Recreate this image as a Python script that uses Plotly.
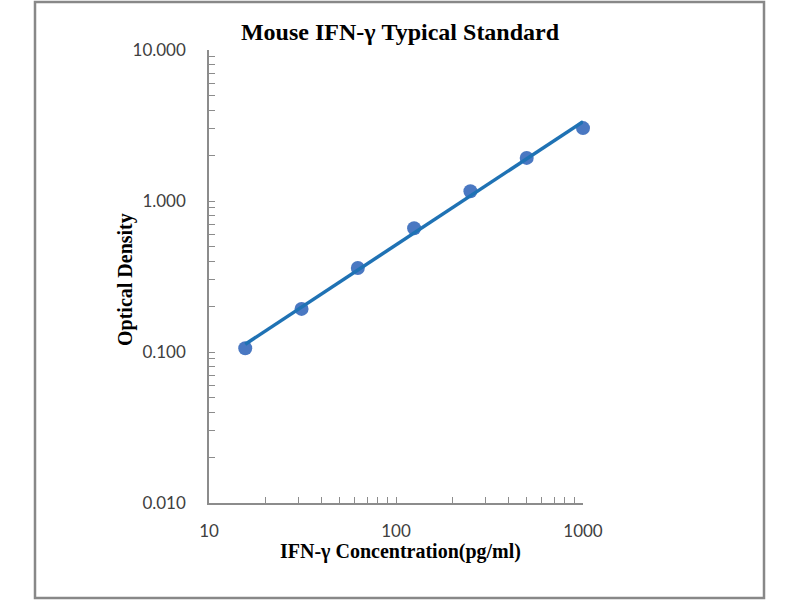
import numpy as np
import plotly.graph_objects as go

concentration = [15.625, 31.25, 62.5, 125, 250, 500, 1000]
optical_density = [0.106, 0.193, 0.36, 0.66, 1.16, 1.93, 3.04]
x_tickvals = [10, 100, 1000]
x_ticktext = ["10", "100", "1000"]
y_tickvals = [0.01, 0.1, 1, 10]
y_ticktext = ["0.010", "0.100", "1.000", "10.000"]

# power trend line (fit in log space)
lx = np.log10(concentration)
ly = np.log10(optical_density)
b, a = np.polyfit(lx, ly, 1)
trend_x = [concentration[0], concentration[-1]]
trend_y = [10 ** (a + b * np.log10(v)) for v in trend_x]

fig = go.Figure()
fig.add_trace(go.Scatter(x=concentration, y=optical_density, mode="markers", cliponaxis=False,
                         marker=dict(color="#4A78C2", size=14), showlegend=False))
fig.add_trace(go.Scatter(x=trend_x, y=trend_y, mode="lines", cliponaxis=False,
                         line=dict(color="#1F72B4", width=3.5), showlegend=False))

L, T, R, B = 209, 50, 583, 503
W, H = R - L, B - T


def px(xp):
    return (xp - L) / W


def py(yp):
    return (B - yp) / H


tickfont = dict(family="Lato, Open Sans, sans-serif", size=17, color="#404040")
serif = "Liberation Serif, Times New Roman, serif"

fig.update_layout(
    width=800, height=600,
    margin=dict(l=L, r=800 - R, t=T, b=600 - B),
    paper_bgcolor="white", plot_bgcolor="white",
    title=dict(text="<b>Mouse IFN-γ Typical Standard</b>",
               font=dict(family=serif, size=24, color="#000000"),
               x=0.5, xanchor="center", y=1 - 32 / 600, yanchor="middle"),
    xaxis=dict(type="log", range=[1, 3], tickvals=x_tickvals, ticktext=x_ticktext,
               showgrid=False, zeroline=False, showline=True, linecolor="#8c8c8c", linewidth=1.5,
               ticks="inside", ticklen=6, tickcolor="#8c8c8c", tickfont=tickfont,
               ticklabelstandoff=12,
               minor=dict(ticks="inside", ticklen=6, tickcolor="#8c8c8c", dtick="D1", showgrid=False)),
    yaxis=dict(type="log", range=[-2, 1], tickvals=y_tickvals, ticktext=y_ticktext,
               showgrid=False, zeroline=False, showline=True, linecolor="#8c8c8c", linewidth=1.5,
               ticks="inside", ticklen=6, tickcolor="#8c8c8c", tickfont=tickfont,
               ticklabelstandoff=18,
               minor=dict(ticks="inside", ticklen=6, tickcolor="#8c8c8c", dtick="D1", showgrid=False)),
    annotations=[
        dict(text="<b>IFN-γ Concentration(pg/ml)</b>", xref="paper", yref="paper",
             x=px(400), y=py(551), xanchor="center", yanchor="middle", showarrow=False,
             font=dict(family=serif, size=20, color="#000000")),
        dict(text="<b>Optical Density</b>", xref="paper", yref="paper", textangle=-90,
             x=px(125), y=py(280), xanchor="center", yanchor="middle", showarrow=False,
             font=dict(family=serif, size=20, color="#000000")),
    ],
    shapes=[dict(type="rect", xref="paper", yref="paper", x0=px(35), x1=px(764),
                 y0=py(598), y1=py(2),
                 line=dict(color="#888888", width=2.5), layer="below")],
)

fig.write_html("out.html", config={"displayModeBar": False},
               post_script="document.body.style.margin='0';")
